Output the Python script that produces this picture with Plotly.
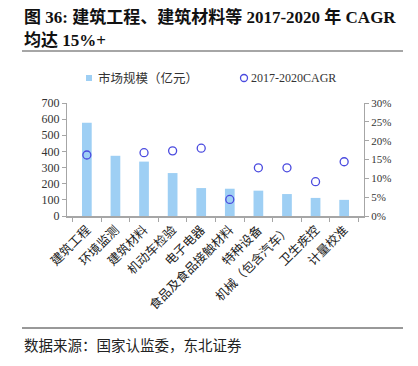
import plotly.graph_objects as go

categories = ["建筑工程", "环境监测", "建筑材料", "机动车检验", "电子电器",
              "食品及食品接触材料", "特种设备", "机械（包含汽车）", "卫生疾控", "计量校准"]
market_size = [578, 373, 337, 266, 173, 169, 157, 136, 112, 100]
cagr = [0.162, None, 0.168, 0.173, 0.180, 0.044, 0.128, 0.128, 0.091, 0.144]

OFF = 8  # browser body margin
W, H = 418 - OFF, 366 - OFF
L, R, T, B = 67, 364, 103, 216  # screenshot coordinates of plot area

def px(x):
    return (x - L) / (R - L)

def py(y):
    return (B - y) / (B - T)

serif = "Liberation Serif, Noto Sans CJK SC"

fig = go.Figure()
fig.add_trace(go.Bar(
    x=categories, y=market_size, name="市场规模（亿元）",
    marker=dict(color="#9ECFF4", line=dict(width=0)),
    yaxis="y", showlegend=False,
))
fig.add_trace(go.Scatter(
    x=categories, y=cagr, name="2017-2020CAGR", mode="markers",
    marker=dict(symbol="circle-open", size=8, color="#4a4adf", line=dict(width=1.3)),
    yaxis="y2", showlegend=False,
))

axis_color = "#a6a6a6"
fig.update_layout(
    width=W, height=H,
    margin=dict(l=L - OFF, r=W - (R - OFF), t=T - OFF, b=H - (B - OFF), pad=0),
    paper_bgcolor="white", plot_bgcolor="white",
    bargap=0.66,
    showlegend=False,
    font=dict(family=serif, size=11, color="#333"),
    xaxis=dict(
        showline=True, linecolor=axis_color, linewidth=1.5,
        ticks="outside", ticklen=4, tickcolor=axis_color, tickson="boundaries",
        tickangle=-45, tickfont=dict(family=serif, size=12.5, color="#222"),
        showgrid=False, automargin=False,
    ),
    yaxis=dict(
        range=[0, 700], dtick=100, showgrid=False, zeroline=False,
        showline=True, linecolor=axis_color, linewidth=1,
        ticks="outside", ticklen=4, tickcolor=axis_color,
        tickfont=dict(family=serif, size=12, color="#333"), automargin=False,
    ),
    yaxis2=dict(
        range=[0, 0.30], dtick=0.05, tickformat=".0%", overlaying="y", side="right",
        showgrid=False, zeroline=False,
        showline=True, linecolor=axis_color, linewidth=1,
        ticks="outside", ticklen=4, tickcolor=axis_color,
        tickfont=dict(family=serif, size=11, color="#333"), automargin=False,
    ),
)

# Manual legend
fig.add_shape(type="rect", xref="paper", yref="paper",
              x0=px(86), x1=px(92), y0=py(75), y1=py(81),
              fillcolor="#9ECFF4", line=dict(width=0))
fig.add_annotation(text="市场规模（亿元）", xref="paper", yref="paper",
                   x=px(96), y=py(78), xanchor="left", yanchor="middle", showarrow=False,
                   font=dict(family=serif, size=12.5, color="#333"))
fig.add_shape(type="circle", xref="paper", yref="paper",
              x0=px(240.5), x1=px(247.5), y0=py(74.5), y1=py(81.5),
              line=dict(color="#4a4adf", width=1.3))
fig.add_annotation(text="2017-2020CAGR", xref="paper", yref="paper",
                   x=px(249), y=py(78), xanchor="left", yanchor="middle", showarrow=False,
                   font=dict(family=serif, size=12, color="#333"))

# Title
fig.add_annotation(text="<b>图 36: 建筑工程、建筑材料等 2017-2020 年 CAGR</b>",
                   xref="paper", yref="paper", x=px(22), y=py(17),
                   xanchor="left", yanchor="middle", showarrow=False,
                   font=dict(family=serif, size=17, color="#111"))
fig.add_annotation(text="<b>均达 15%+</b>",
                   xref="paper", yref="paper", x=px(22), y=py(40),
                   xanchor="left", yanchor="middle", showarrow=False,
                   font=dict(family=serif, size=17, color="#111"))
fig.add_shape(type="line", xref="paper", yref="paper",
              x0=px(22), x1=px(403), y0=py(51), y1=py(51),
              line=dict(color="#888888", width=1.5))
# Footer
fig.add_shape(type="line", xref="paper", yref="paper",
              x0=px(22), x1=px(403), y0=py(328), y1=py(328),
              line=dict(color="#333333", width=1))
fig.add_annotation(text="数据来源：国家认监委，东北证券",
                   xref="paper", yref="paper", x=px(22), y=py(346),
                   xanchor="left", yanchor="middle", showarrow=False,
                   font=dict(family=serif, size=14.5, color="#222"))

fig.write_html("out.html")
